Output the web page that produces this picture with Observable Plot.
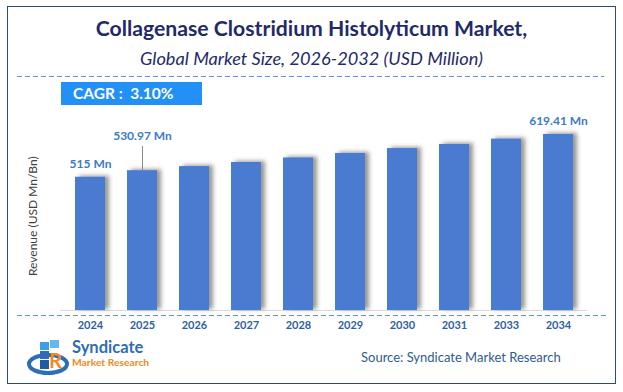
<!DOCTYPE html>
<html>
<head>
<meta charset="utf-8">
<script src="https://cdn.jsdelivr.net/npm/d3@7"></script>
<script src="https://cdn.jsdelivr.net/npm/@observablehq/plot@0.6"></script>
<style>
  html, body { margin: 0; padding: 0; background: #fff; }
  #page { position: relative; width: 623px; height: 392px; overflow: hidden; font-family: Lato, "Noto Sans", sans-serif; }
  .abs { position: absolute; white-space: nowrap; }
  #frame { left: 7px; top: 6px; width: 607px; height: 376px; border: 1.5px solid #2f4a6d; }
  #title { left: 0; width: 623px; top: 16px; text-align: center; font-weight: 700; font-size: 21.2px; line-height: 24px; color: #1f2a6b; }
  #subtitle { left: 0; width: 623px; top: 47px; text-align: center; font-style: italic; font-size: 18.2px; line-height: 22px; color: #1f2a6b; }
  .dash { height: 1px; background: repeating-linear-gradient(to right, #5f8fd6 0 5px, transparent 5px 8px); }
  #cagr { left: 61px; top: 82px; width: 141px; height: 23px; background: #2290f6; }
  #cagrText { left: 73px; top: 83px; font-weight: 700; font-size: 15.5px; line-height: 20px; color: #fff; }
  #chart { left: 0; top: 110px; }
  #source { left: 361px; top: 348px; font-size: 13px; line-height: 18px; color: #2f5c8e; }
  #logoTxt1 { left: 72px; top: 338px; font-weight: 700; font-size: 16.5px; line-height: 19px; color: #2d6db8; }
  #logoTxt2 { left: 72px; top: 356px; font-weight: 700; font-size: 10.3px; line-height: 13px; color: #f08a24; }
</style>
</head>
<body>
<div id="page">
  <div id="frame" class="abs"></div>
  <div id="title" class="abs">Collagenase Clostridium Histolyticum Market,</div>
  <div id="subtitle" class="abs">Global Market Size, 2026-2032 (USD Million)</div>
  <div class="abs dash" style="left:17px; top:76px; width:587px;"></div>
  <div id="cagr" class="abs"></div>
  <div id="cagrText" class="abs">CAGR :&nbsp; 3.10%</div>
  <div id="chart" class="abs"></div>
  <div class="abs dash" style="left:17px; top:315px; width:590px;"></div>
  <svg class="abs" style="left:26px; top:334px;" width="48" height="46" viewBox="0 0 48 46">
    <ellipse cx="22" cy="30" rx="19" ry="9" fill="none" stroke="#2d6db8" stroke-width="4"/>
    <rect x="14" y="8" width="9" height="8" fill="#3aa0e6"/>
    <rect x="24" y="6" width="9" height="8" fill="#63b8ee"/>
    <rect x="14" y="17" width="9" height="8" fill="#2d6db8"/>
    <rect x="14" y="26" width="9" height="9" fill="#1f5aa6"/>
    <text x="23" y="34" font-family="Lato, sans-serif" font-weight="700" font-size="20" fill="#f08a24">R</text>
  </svg>
  <div id="logoTxt1" class="abs">Syndicate</div>
  <div id="logoTxt2" class="abs">Market Research</div>
  <div id="source" class="abs">Source: Syndicate Market Research</div>
</div>
<script>
// ---- data ----
const years = ["2024", "2025", "2026", "2027", "2028", "2029", "2030", "2031", "2033", "2034"];
const values = [515, 530.97, 541, 551, 562, 573, 585, 595, 608, 619.41];
const valueLabels = ["515 Mn", "530.97 Mn", "", "", "", "", "", "", "", "619.41 Mn"];
const leaderYears = ["2025"];
const yAxisLabel = "Revenue (USD Mn/Bn)";

// ---- build table ----
const table = years.map((year, i) => ({ year, value: values[i], label: valueLabels[i] }));
const yMin = 190, yMax = 650;
const leaderSpan = 59; // leader line length, in value units
const direct = table.filter(d => d.label && !leaderYears.includes(d.year));
const leadered = table.filter(d => d.label && leaderYears.includes(d.year));

const barColor = "#4a7bd1";
const labelColor = "#3a7bc8";
const tickColor = "#2e5fa6";

const chart = Plot.plot({
  width: 623,
  height: 230,
  marginLeft: 49,
  marginRight: 24.7,
  marginTop: 11.4,
  marginBottom: 30,
  style: { fontFamily: "Lato, 'Noto Sans', sans-serif", background: "transparent", overflow: "visible" },
  x: { domain: years, padding: 0.43, label: null },
  y: { domain: [yMin, yMax], axis: null },
  marks: [
    Plot.ruleY([yMin], { stroke: "#d9d9d9", strokeWidth: 1.2, insetLeft: 11, insetRight: 11 }),
    Plot.barY(table, { x: "year", y1: yMin, y2: "value", fill: barColor }),
    Plot.axisX({ tickSize: 0, tickPadding: 11, fontSize: 11, fontWeight: 700, fill: tickColor, label: null }),
    Plot.text(direct, { x: "year", y: "value", text: "label", dy: -13.5, fill: labelColor, fontSize: 12, fontWeight: 700 }),
    Plot.ruleX(leadered, { x: "year", y1: "value", y2: d => d.value + leaderSpan, stroke: "#8c8c8c", strokeWidth: 1 }),
    Plot.text(leadered, { x: "year", y: d => d.value + leaderSpan, text: "label", dy: -10, fill: labelColor, fontSize: 12, fontWeight: 700 }),
    Plot.text([yAxisLabel], { frameAnchor: "left", textAnchor: "middle", rotate: -90, dx: -16, fontSize: 12, fill: "#404040" })
  ]
});

// soft shadow on the right of the bars
const ns = "http://www.w3.org/2000/svg";
const defs = document.createElementNS(ns, "defs");
defs.innerHTML = '<filter id="barShadow" x="-30%" y="-10%" width="160%" height="120%"><feDropShadow dx="4" dy="-1" stdDeviation="2" flood-color="#444" flood-opacity="0.55"/></filter>';
chart.insertBefore(defs, chart.firstChild);
const barGroup = chart.querySelector('g[aria-label="bar"]');
if (barGroup) barGroup.setAttribute("filter", "url(#barShadow)");

document.getElementById("chart").appendChild(chart);
</script>
</body>
</html>
